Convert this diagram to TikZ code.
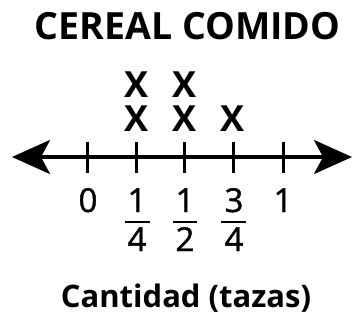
\documentclass[tikz,border=0pt]{standalone}
\usepackage{fontspec}
\setmainfont{Open Sans}
\newfontfamily\digfont[FakeBold=1.2]{Open Sans}
\usetikzlibrary{arrows.meta}

\begin{document}
\begin{tikzpicture}[x=1pt,y=-1pt,
        numlbl/.style={font=\fontsize{33}{33}\selectfont\digfont, inner sep=0pt, anchor=base},
        xmark/.style={font=\fontsize{36}{36}\selectfont\bfseries, inner sep=0pt, anchor=base},
        fracbar/.style={line width=2.5pt},
        bigtip/.tip={Stealth[length=38pt,width=34pt,inset=9pt]}]
        \useasboundingbox (0,0) rectangle (353,324);
        \node[font=\fontsize{37.5}{37.5}\selectfont\bfseries, inner sep=0pt, anchor=base] (title) at (187.5,39) {CEREAL COMIDO};
        \coordinate (axl) at (12,157);
        \coordinate (axr) at (352,157);
        \draw[line width=3.5pt, bigtip-bigtip] (axl)--(axr);
        \foreach \t in {87,136,184,233,283}
            \draw[line width=3pt] (\t,142)--(\t,173);
        % marks
        \node[xmark] (xa1) at (136.5,131) {X};
        \node[xmark] (xa2) at (136.5,97) {X};
        \node[xmark] (xb1) at (185,131) {X};
        \node[xmark] (xb2) at (185,97) {X};
        \node[xmark] (xc1) at (233,131) {X};
        % labels
        \node[numlbl] (zero) at (88,212) {0};
        \node[numlbl] (one) at (283,212) {1};
        \node[numlbl] (n14) at (137,212) {1};
        \node[numlbl] (d14) at (137,251) {4};
        \draw[fracbar] (124.5,222)--(149.5,222);
        \node[numlbl] (n12) at (185,212) {1};
        \node[numlbl] (d12) at (185,251) {2};
        \draw[fracbar] (173,222)--(197,222);
        \node[numlbl] (n34) at (234,212) {3};
        \node[numlbl] (d34) at (234,251) {4};
        \draw[fracbar] (221,222)--(246,222);
        \node[font=\fontsize{31}{31}\selectfont\bfseries, inner sep=0pt, anchor=base] (qty) at (186,307) {Cantidad (tazas)};
    \end{tikzpicture}
\end{document}
